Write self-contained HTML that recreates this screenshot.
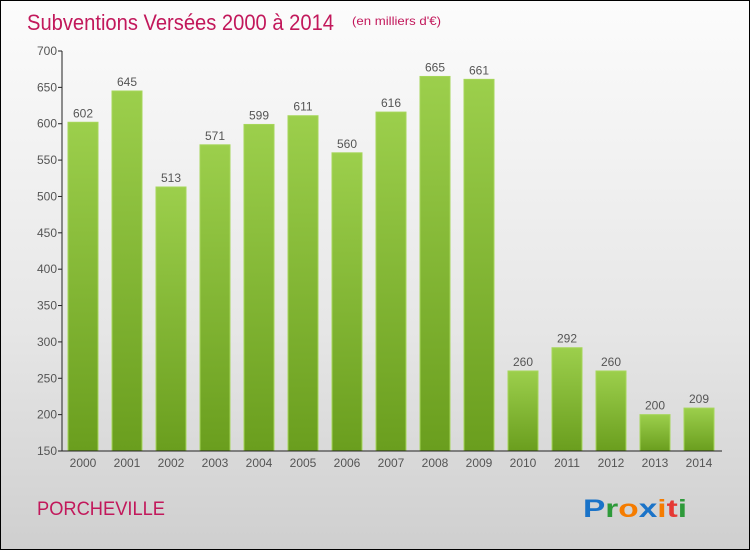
<!DOCTYPE html>
<html><head><meta charset="utf-8"><style>
body{margin:0}
#c{width:750px;height:550px;position:relative;box-sizing:border-box;border:1px solid #000;background:linear-gradient(#fcfcfc,#e6e6e6 60%,#cfcfcf);font-family:"Liberation Sans","DejaVu Sans",sans-serif;overflow:hidden}
</style></head><body>
<div id="c">
<svg id="s" width="750" height="550" style="position:absolute;left:0;top:0">
<text x="26" y="29" font-size="22" fill="#c2185b" textLength="307" lengthAdjust="spacingAndGlyphs">Subventions Versées 2000 à 2014</text>
<text x="351" y="24" font-size="12" fill="#c2185b" textLength="89" lengthAdjust="spacingAndGlyphs">(en milliers d'€)</text>
<text x="36" y="514" font-size="19" fill="#c2185b" textLength="128" lengthAdjust="spacingAndGlyphs">PORCHEVILLE</text>
<g font-size="25" font-weight="bold">
<text x="582" y="516" textLength="104" lengthAdjust="spacingAndGlyphs"><tspan fill="#1a73c8">P</tspan><tspan fill="#2e9a3a">r</tspan><tspan fill="#f57c00">o</tspan><tspan fill="#1a73c8">x</tspan><tspan fill="#f57c00">i</tspan><tspan fill="#e53935">t</tspan><tspan fill="#2e9a3a">i</tspan></text>
</g>
<defs><linearGradient id="g" x1="0" y1="0" x2="0" y2="1"><stop offset="0" stop-color="#9ccf4c"/><stop offset="1" stop-color="#6a9e1e"/></linearGradient></defs>
<g id="bars"></g><g id="axes"></g>
</svg>
</div>
<script>
const categories=["2000","2001","2002","2003","2004","2005","2006","2007","2008","2009","2010","2011","2012","2013","2014"];
const values=[602,645,513,571,599,611,560,616,665,661,260,292,260,200,209];
const yTicks=[150,200,250,300,350,400,450,500,550,600,650,700];
const NS="http://www.w3.org/2000/svg";
const y=v=>450-(v-150)*400/550;
const x=i=>82+i*44;
const bars=document.getElementById('bars'),axes=document.getElementById('axes');
function mk(tag,attrs,parent){const e=document.createElementNS(NS,tag);for(const k in attrs)e.setAttribute(k,attrs[k]);parent.appendChild(e);return e;}
values.forEach((v,i)=>{
 const r=mk('rect',{x:x(i)-15,y:y(v),width:30,height:450-y(v),fill:'url(#g)',stroke:'#a6d65a','stroke-width':1},bars);
 
 
 const t=mk('text',{x:x(i),y:y(v)-5,'text-anchor':'middle','font-size':12,fill:'#555'},bars);
 t.textContent=v;
 
 
 const c=mk('text',{x:x(i),y:466,'text-anchor':'middle','font-size':12,fill:'#555'},axes);
 c.textContent=categories[i];
 
 
});
yTicks.forEach(v=>{
 const l=mk('line',{x1:57,x2:61,y1:y(v),y2:y(v),stroke:'#222'},axes);
 
 
 const t=mk('text',{x:56,y:y(v)+4,'text-anchor':'end','font-size':12,fill:'#555'},axes);
 t.textContent=v;
 
 
});
const ya=mk('line',{x1:61,x2:61,y1:50,y2:450,stroke:'#222'},axes);


const xa=mk('line',{x1:61,x2:721,y1:450,y2:450,stroke:'#222'},axes);


</script>
</body></html>
